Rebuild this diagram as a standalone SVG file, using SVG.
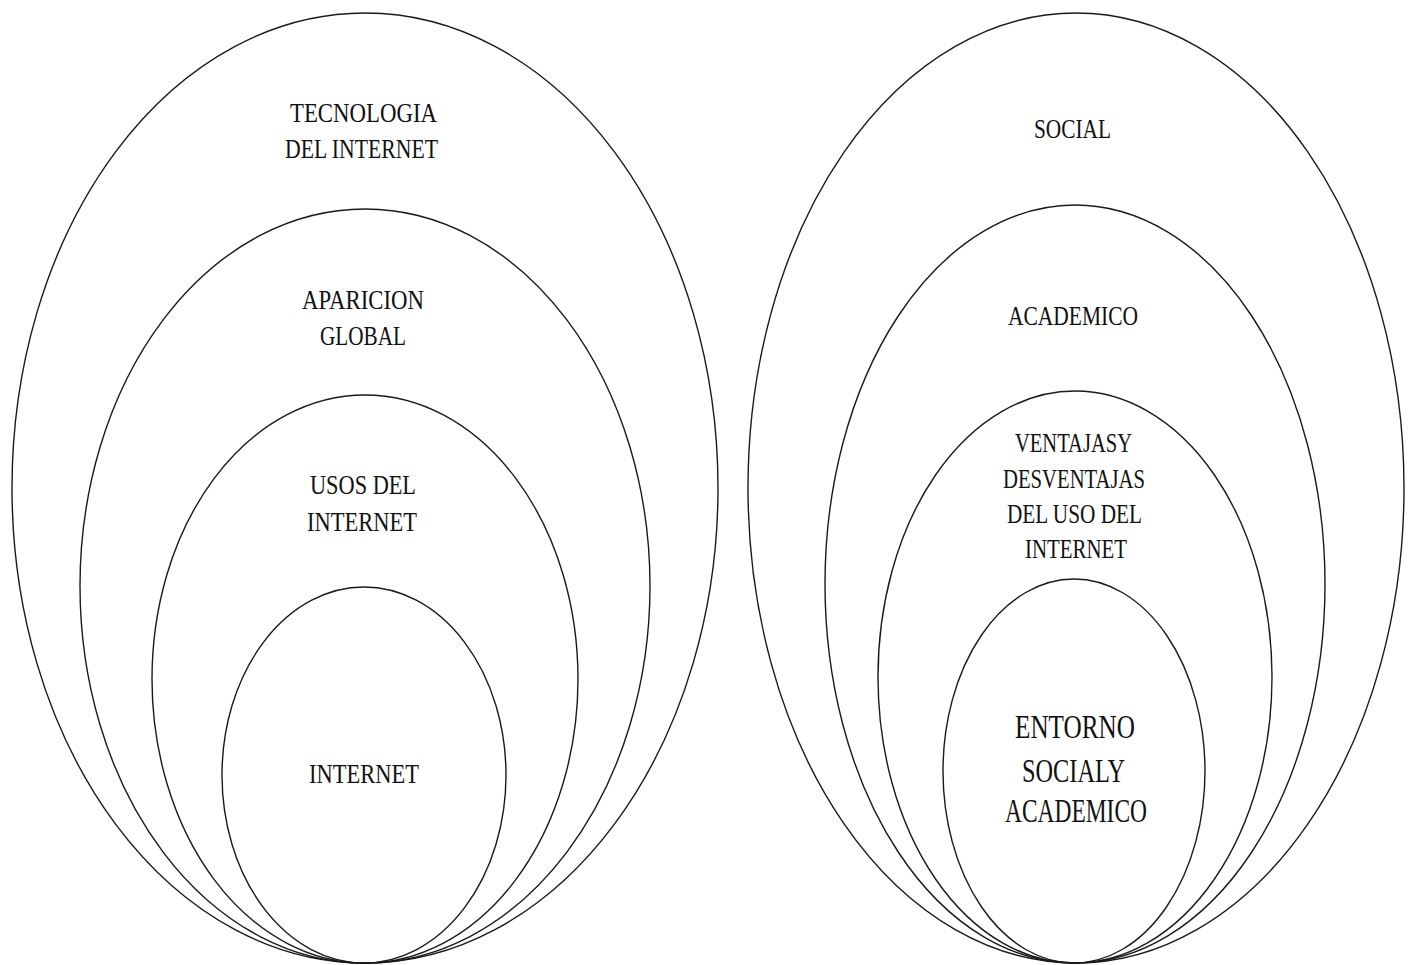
<svg xmlns="http://www.w3.org/2000/svg" width="1410" height="965" viewBox="0 0 1410 965">
<style>
.e{fill:none;stroke:#1a1a1a;stroke-width:1.4}
.t{font-family:"Liberation Serif","Times New Roman",serif;font-size:28px;fill:#111;text-anchor:middle}
.b{font-size:34px}
</style>
<rect width="1410" height="965" fill="#fff"/>
<g id="left">
<g id="tecnologia"><ellipse class="e" cx="365" cy="488" rx="353" ry="475"/>
<text class="t" x="363.5" y="122" textLength="147" lengthAdjust="spacingAndGlyphs">TECNOLOGIA</text>
<text class="t" x="361.5" y="158" textLength="153" lengthAdjust="spacingAndGlyphs">DEL INTERNET</text></g>
<g id="aparicion"><ellipse class="e" cx="365" cy="586" rx="285" ry="377"/>
<text class="t" x="363" y="309" textLength="122" lengthAdjust="spacingAndGlyphs">APARICION</text>
<text class="t" x="363" y="345" textLength="86" lengthAdjust="spacingAndGlyphs">GLOBAL</text></g>
<g id="usos"><ellipse class="e" cx="365" cy="679" rx="213" ry="284"/>
<text class="t" x="363" y="494" textLength="106" lengthAdjust="spacingAndGlyphs">USOS DEL</text>
<text class="t" x="362" y="531" textLength="110" lengthAdjust="spacingAndGlyphs">INTERNET</text></g>
<g id="internet"><ellipse class="e" cx="364" cy="775" rx="142" ry="188"/>
<text class="t" x="364" y="783" textLength="110" lengthAdjust="spacingAndGlyphs">INTERNET</text></g>
</g>
<g id="right">
<g id="social"><ellipse class="e" cx="1076" cy="488" rx="328" ry="475"/>
<text class="t" x="1072.5" y="138" textLength="77" lengthAdjust="spacingAndGlyphs">SOCIAL</text></g>
<g id="academico"><ellipse class="e" cx="1075" cy="584" rx="250" ry="379"/>
<text class="t" x="1073" y="325" textLength="130" lengthAdjust="spacingAndGlyphs">ACADEMICO</text></g>
<g id="ventajas"><ellipse class="e" cx="1075" cy="677" rx="197" ry="286"/>
<text class="t" x="1073.5" y="452" textLength="117" lengthAdjust="spacingAndGlyphs">VENTAJASY</text>
<text class="t" x="1074" y="488" textLength="142" lengthAdjust="spacingAndGlyphs">DESVENTAJAS</text>
<text class="t" x="1074.5" y="523" textLength="135" lengthAdjust="spacingAndGlyphs">DEL USO DEL</text>
<text class="t" x="1076" y="558" textLength="102" lengthAdjust="spacingAndGlyphs">INTERNET</text></g>
<g id="entorno"><ellipse class="e" cx="1074" cy="771" rx="131" ry="192"/>
<text class="t b" x="1075" y="738" textLength="120" lengthAdjust="spacingAndGlyphs">ENTORNO</text>
<text class="t b" x="1073.5" y="782" textLength="103" lengthAdjust="spacingAndGlyphs">SOCIALY</text>
<text class="t b" x="1076" y="822" textLength="142" lengthAdjust="spacingAndGlyphs">ACADEMICO</text></g>
</g>
<g id="connectors"/>
</svg>
